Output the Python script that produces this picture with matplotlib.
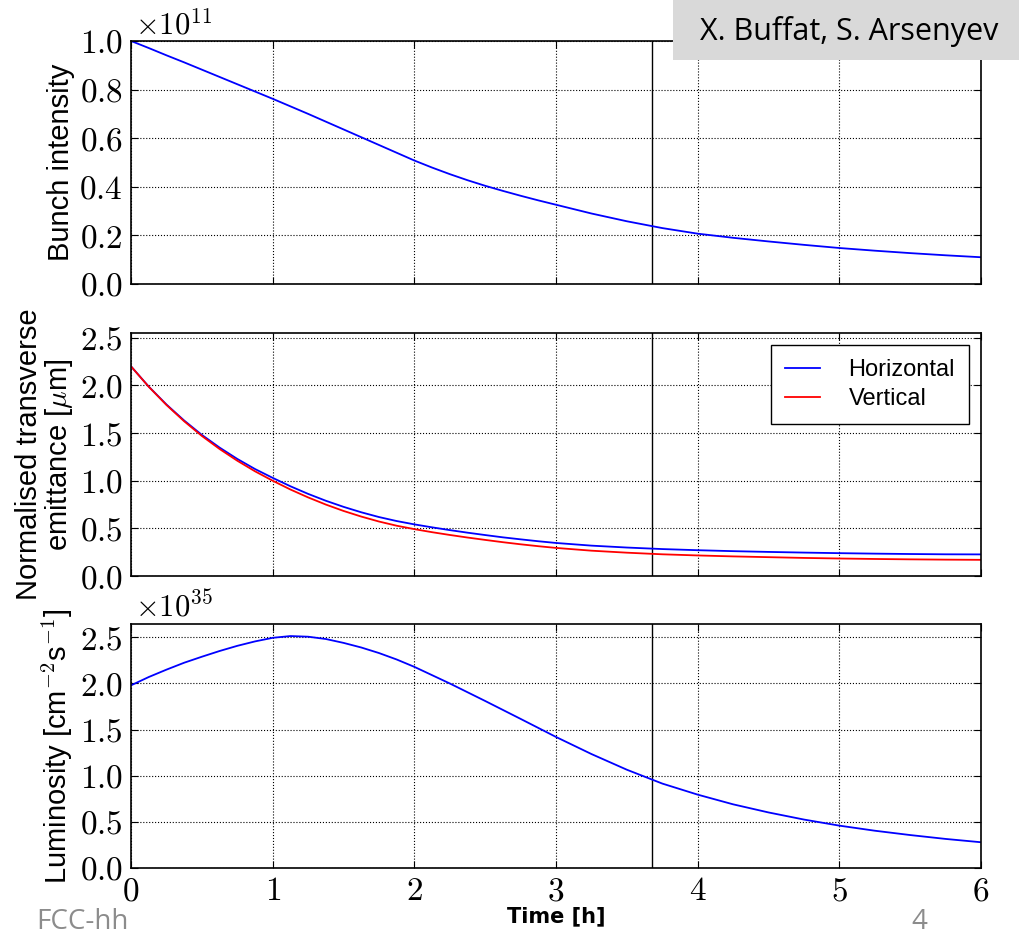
import matplotlib
matplotlib.use("Agg")
import matplotlib.pyplot as plt
from matplotlib.patches import Rectangle
from matplotlib.ticker import FuncFormatter, MultipleLocator

plt.rcParams["font.family"] = ["Liberation Sans", "DejaVu Sans"]
plt.rcParams["mathtext.fontset"] = "cm"

# time in hours (finer where the curves bend most)
time_h = [0.0, 0.125, 0.25, 0.375, 0.5, 0.625, 0.75, 0.875, 1.0, 1.125, 1.25, 1.375,
          1.5, 1.625, 1.75, 1.875, 2.0, 2.125, 2.25, 2.375, 2.5, 2.625, 2.75, 2.875,
          3.0, 3.25, 3.5, 3.75, 4.0, 4.25, 4.5, 4.75, 5.0, 5.25, 5.5, 5.75, 6.0]

# bunch intensity [1e11 p]
intensity = [1.000, 0.971, 0.941, 0.912, 0.882, 0.852, 0.822, 0.792, 0.762, 0.731,
             0.700, 0.668, 0.636, 0.604, 0.572, 0.540, 0.508, 0.479, 0.452, 0.427,
             0.404, 0.383, 0.363, 0.344, 0.326, 0.290, 0.258, 0.230, 0.207, 0.190,
             0.175, 0.161, 0.148, 0.137, 0.127, 0.118, 0.110]

# normalised emittance [um]
emit_h = [2.200, 1.988, 1.800, 1.632, 1.481, 1.348, 1.229, 1.123, 1.030, 0.942,
          0.862, 0.790, 0.726, 0.669, 0.619, 0.577, 0.542, 0.511, 0.482, 0.455,
          0.430, 0.406, 0.385, 0.365, 0.347, 0.319, 0.299, 0.283, 0.271, 0.261,
          0.253, 0.246, 0.240, 0.235, 0.231, 0.228, 0.227]
emit_v = [2.200, 1.986, 1.795, 1.624, 1.470, 1.333, 1.210, 1.099, 1.000, 0.908,
          0.825, 0.750, 0.683, 0.624, 0.572, 0.528, 0.492, 0.460, 0.431, 0.404,
          0.379, 0.355, 0.333, 0.313, 0.295, 0.266, 0.245, 0.228, 0.216, 0.206,
          0.198, 0.190, 0.184, 0.179, 0.175, 0.172, 0.170]

# luminosity [1e35 cm^-2 s^-1]
lumi = [1.980, 2.070, 2.150, 2.225, 2.290, 2.352, 2.408, 2.456, 2.495, 2.514,
        2.507, 2.482, 2.440, 2.390, 2.330, 2.260, 2.180, 2.090, 2.000, 1.905,
        1.810, 1.713, 1.616, 1.518, 1.420, 1.235, 1.065, 0.915, 0.795, 0.690,
        0.602, 0.525, 0.459, 0.404, 0.357, 0.315, 0.279]

t_end = 3.68  # end of fill marker

TICK_FS = 24
LABEL_FS = 21

fig = plt.figure(figsize=(10.19, 9.40), dpi=100)
ax1 = fig.add_axes([0.1286, 0.6979, 0.8342, 0.2585])
ax2 = fig.add_axes([0.1286, 0.3872, 0.8342, 0.2585])
ax3 = fig.add_axes([0.1286, 0.0766, 0.8342, 0.2596])

yfmt = FuncFormatter(lambda v, p: r"$%.1f$" % v)
xfmt = FuncFormatter(lambda v, p: r"$%d$" % round(v))

for ax in (ax1, ax2, ax3):
    ax.set_xlim(0, 6)
    ax.xaxis.set_major_locator(MultipleLocator(1))
    ax.axvline(t_end, color="k", lw=1.0)
    ax.grid(True, color="k", linestyle=":", linewidth=0.8)
    ax.tick_params(direction="in", top=True, right=True, length=5,
                   labelsize=TICK_FS, pad=6)
    ax.yaxis.set_major_formatter(yfmt)
    ax.xaxis.set_major_formatter(xfmt)
    for sp in ax.spines.values():
        sp.set_linewidth(1.2)

ax1.plot(time_h, intensity, color="b", lw=1.3)
ax1.set_ylim(0, 1.0)
ax1.yaxis.set_major_locator(MultipleLocator(0.2))
ax1.set_ylabel("Bunch intensity", fontsize=LABEL_FS)
ax1.tick_params(labelbottom=False)
ax1.text(0.005, 1.0, r"$\times10^{11}$", transform=ax1.transAxes,
         fontsize=22, ha="left", va="bottom")

ax2.plot(time_h, emit_h, color="b", lw=1.3, label="Horizontal")
ax2.plot(time_h, emit_v, color="r", lw=1.3, label="Vertical")
ax2.set_ylim(0, 2.55)
ax2.yaxis.set_major_locator(MultipleLocator(0.5))
ax2.set_ylabel("Normalised transverse\nemittance [$\\mu$m]", fontsize=LABEL_FS,
               linespacing=1.0)
ax2.tick_params(labelbottom=False)
leg = ax2.legend(loc="upper right", fontsize=17, fancybox=False,
                 handlelength=1.5, handletextpad=1.2, borderpad=0.6,
                 labelspacing=0.3, borderaxespad=0.5, framealpha=1)
leg.get_frame().set_edgecolor("k")
leg.get_frame().set_linewidth(1.0)

ax3.plot(time_h, lumi, color="b", lw=1.3)
ax3.set_ylim(0, 2.645)
ax3.yaxis.set_major_locator(MultipleLocator(0.5))
ax3.set_ylabel("Luminosity [cm$^{-2}$s$^{-1}$]", fontsize=LABEL_FS)
ax3.set_xlabel("Time [h]", fontsize=15, family="DejaVu Sans",
               fontweight="bold", labelpad=-1)
ax3.text(0.005, 1.0, r"$\times10^{35}$", transform=ax3.transAxes,
         fontsize=22, ha="left", va="bottom")

for ax in (ax1, ax2, ax3):
    ax.yaxis.set_label_coords(-0.066, 0.5)

# slide decorations
fig.patches.append(Rectangle((0.6605, 0.936), 0.3395, 0.064, transform=fig.transFigure,
                             facecolor="#d9d9d9", edgecolor="none", zorder=10))
fig.text(0.833, 0.967, "X. Buffat, S. Arsenyev", fontsize=22, family="Open Sans",
         ha="center", va="center", zorder=11)
fig.text(0.036, 0.004, "FCC-hh", fontsize=20, color="#8c8c8c", family="Open Sans",
         ha="left", va="bottom")
fig.text(0.894, 0.004, "4", fontsize=20, color="#8c8c8c", family="Open Sans",
         ha="left", va="bottom")

fig.savefig("out.png", dpi=100)
